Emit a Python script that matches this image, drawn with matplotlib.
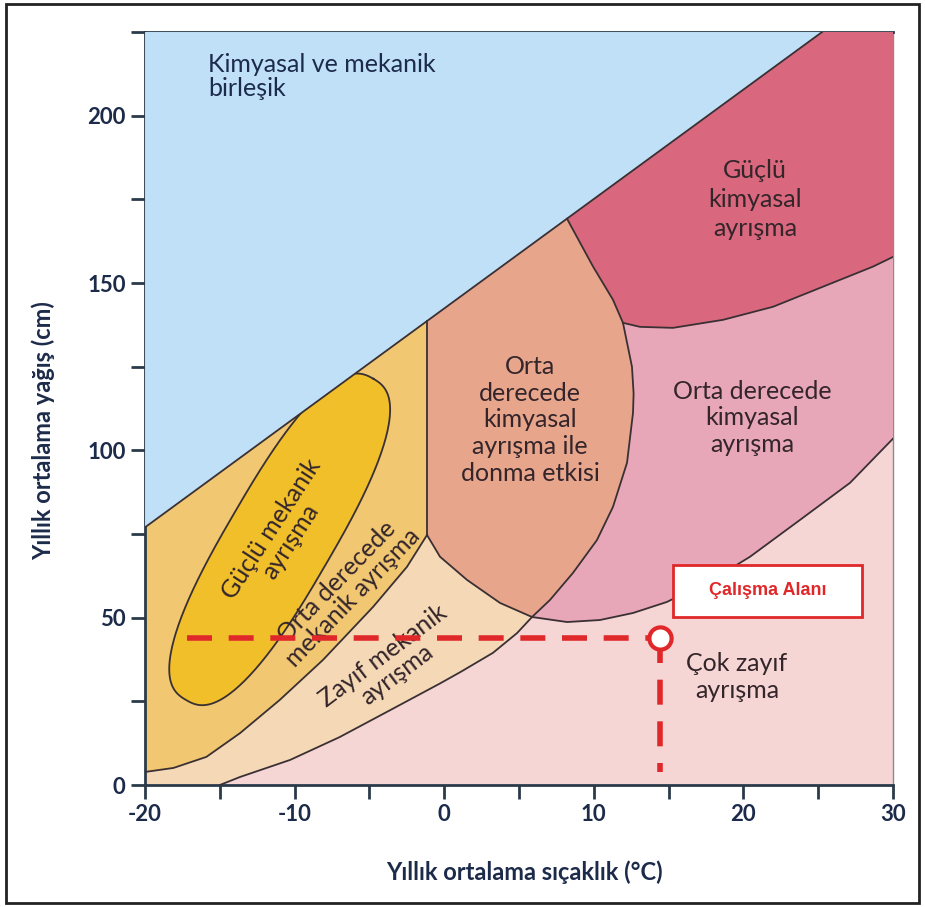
import numpy as np
import matplotlib.pyplot as plt
from matplotlib.patches import Rectangle

# boundary curves (x: temperature C, y: precipitation cm)
blue_x = [-20, 25.26]
blue_y = [77, 225]

curve_a_x = [-20, -18.1, -15.9, -13.65, -11.0, -8.1, -4.76, -2.49, -1.15]
curve_a_y = [3.9, 5.1, 8.4, 15.5, 25.4, 37.4, 53.2, 65.2, 74.7]

curve_b_x = [-15.0, -13.65, -10.3, -7.0, -3.6, -0.3, 1.1, 3.26, 4.87, 5.87]
curve_b_y = [0, 2.4, 7.5, 14.3, 22.4, 30.3, 33.8, 39.5, 45.4, 50.2]

donma_bot_x = [-1.15, -0.28, 1.52, 3.73, 5.87]
donma_bot_y = [74.7, 68.2, 61.3, 54.4, 50.2]

donma_up_x = [8.21, 9.95, 11.28, 11.95]
donma_up_y = [169.2, 154.9, 145.0, 138.1]
donma_lo_x = [11.95, 12.55, 12.66, 12.62, 12.22, 11.28, 10.21, 8.61, 7.07, 5.87]
donma_lo_y = [138.1, 125.0, 117.0, 111.2, 96.3, 83.1, 73.2, 63.4, 55.3, 50.2]

curve_c_x = [5.87, 8.21, 10.41, 12.62, 14.89, 18.24, 20.44, 23.78, 27.13, 30]
curve_c_y = [50.2, 48.7, 49.3, 51.4, 54.7, 62.2, 68.2, 79.2, 90.3, 103.5]

curve_d_x = [11.95, 13.09, 15.29, 18.64, 21.98, 25.32, 28.66, 30]
curve_d_y = [138.1, 136.9, 136.6, 139.0, 142.9, 148.9, 154.9, 157.8]

# strong mechanical zone (rounded oval): centre, conjugate semi-axes, squareness
ell_c = (-11.0, 73.4)
ell_long = (6.26, 48.0)
ell_short = (3.03, -7.89)
ell_n = 2.6

# study area point
site_t = 14.43
site_p = 44.0

xticks = [-20, -15, -10, -5, 0, 5, 10, 15, 20, 25, 30]
yticks = [0, 25, 50, 75, 100, 125, 150, 175, 200, 225]

c_blue = '#bfe0f6'
c_mech = '#f2c772'
c_ell = '#f0bf2a'
c_weak = '#f5d8b6'
c_vweak = '#f6d6d4'
c_donma = '#e7a58c'
c_modchem = '#e8a7b8'
c_strong = '#d9687e'
edge = '#3a3034'
navy = '#1d2b4a'
red = '#e0282a'

plt.rcParams['font.family'] = ['Lato', 'DejaVu Sans']

fig = plt.figure(figsize=(9.25, 9.07), dpi=100)
ax = fig.add_axes([0.1568, 0.1345, 0.8086, 0.8302])
ax.set_xlim(-20, 30)
ax.set_ylim(0, 225)
ax.set_facecolor(c_vweak)

def blue_at(x):
    return np.interp(x, blue_x, blue_y)

vx = curve_a_x[-1]
r = lambda a: list(a)[::-1]

# weak mechanical
ax.fill([-20] + curve_b_x + r(donma_bot_x) + r(curve_a_x),
        [0] + curve_b_y + r(donma_bot_y) + r(curve_a_y), color=c_weak, lw=0)
# moderate mechanical
ax.fill(curve_a_x + [vx, -20], curve_a_y + [blue_at(vx), blue_y[0]], color=c_mech, lw=0)

# strong mechanical oval
t = np.linspace(0, 2 * np.pi, 300)
cu = np.sign(np.cos(t)) * np.abs(np.cos(t)) ** (2 / ell_n)
su = np.sign(np.sin(t)) * np.abs(np.sin(t)) ** (2 / ell_n)
ex = ell_c[0] + ell_long[0] * cu + ell_short[0] * su
ey = ell_c[1] + ell_long[1] * cu + ell_short[1] * su
ax.fill(ex, ey, color=c_ell, lw=0, zorder=2)
ax.plot(ex, ey, color=edge, lw=1.3, zorder=2.5)

# frost + moderate chemical
ax.fill([vx, vx] + donma_up_x + donma_lo_x[1:] + r(donma_bot_x),
        [donma_bot_y[0], blue_at(vx)] + donma_up_y + donma_lo_y[1:] + r(donma_bot_y),
        color=c_donma, lw=0, zorder=3)
# moderate chemical
ax.fill(donma_lo_x + curve_c_x + r(curve_d_x),
        donma_lo_y + curve_c_y + r(curve_d_y), color=c_modchem, lw=0, zorder=3)
# strong chemical
ax.fill(donma_up_x + curve_d_x + [30, 30, blue_x[1]],
        donma_up_y + curve_d_y + [225, 225, blue_y[1]], color=c_strong, lw=0, zorder=3)
# combined (blue)
ax.fill(blue_x + [-20], blue_y + [225], color=c_blue, lw=0, zorder=3)

# boundary lines
for xs, ys in [(blue_x, blue_y), (curve_a_x, curve_a_y), (curve_b_x, curve_b_y),
               (donma_bot_x, donma_bot_y), (donma_up_x, donma_up_y),
               (donma_lo_x, donma_lo_y), (curve_c_x, curve_c_y), (curve_d_x, curve_d_y),
               ([vx, vx], [curve_a_y[-1], blue_at(vx)])]:
    ax.plot(xs, ys, color=edge, lw=1.3, zorder=4)

# region labels
lab = dict(fontsize=18, color='#33252a', ha='center', va='center', zorder=5, linespacing=1.2)
ax.text(-15.79, 218.8, 'Kimyasal ve mekanik\nbirleşik', fontsize=18, color=navy,
        ha='left', va='top', linespacing=1.05, zorder=5)
ax.text(20.78, 174.9, 'Güçlü\nkimyasal\nayrışma', **dict(lab, linespacing=1.3))
ax.text(5.74, 109.1, 'Orta\nderecede\nkimyasal\nayrışma ile\ndonma etkisi', **lab)
ax.text(20.57, 109.7, 'Orta derecede\nkimyasal\nayrışma', **lab)
ax.text(19.57, 32.3, 'Çok zayıf\nayrışma', **lab)
ax.text(-10.9, 74.7, 'Güçlü mekanik\nayrışma', rotation=57, rotation_mode='anchor',
        **dict(lab, linespacing=1.0))
ax.text(-6.63, 58.3, 'Orta derecede\nmekanik ayrışma', rotation=46, rotation_mode='anchor',
        **dict(lab, linespacing=1.0))
ax.text(-3.62, 35.9, 'Zayıf mekanik\nayrışma', rotation=37, rotation_mode='anchor',
        **dict(lab, linespacing=1.0))

# study area
dash = (0, (4.5, 3))
ax.plot([-17.2, site_t], [site_p, site_p], color=red, lw=4, ls=dash, zorder=6)
ax.plot([site_t, site_t], [site_p, 4], color=red, lw=4, ls=dash, zorder=6)
ax.plot(site_t, site_p, 'o', ms=16, mfc='white', mec=red, mew=3, zorder=7)
ax.add_patch(Rectangle((site_t + 0.86, site_p + 6.2), 12.64, 15.6, fc='white', ec=red,
                       lw=2, zorder=7))
ax.text(site_t + 7.18, site_p + 14.0, 'Çalışma Alanı', color=red, fontsize=13,
        fontweight='bold', family=['Liberation Sans'], ha='center', va='center', zorder=8)

# axes
ax.set_xticks(xticks)
ax.set_xticklabels([str(v) if v % 10 == 0 else '' for v in xticks])
ax.set_yticks(yticks)
ax.set_yticklabels([str(v) if v % 50 == 0 and v < 225 else '' for v in yticks])
ax.tick_params(length=10, width=2, color='#2b3a4a', labelsize=16, labelcolor=navy, pad=4)
for lbl in ax.get_xticklabels() + ax.get_yticklabels():
    lbl.set_fontweight('bold')
for s in ['left', 'bottom', 'top']:
    ax.spines[s].set_color('#2b3a4a')
    ax.spines[s].set_linewidth(2)
ax.spines['right'].set_color('#8a8a90')
ax.spines['right'].set_linewidth(1)

ax.set_xlabel('Yıllık ortalama sıçaklık (°C)', fontsize=17, fontweight='bold', color=navy)
ax.set_ylabel('Yıllık ortalama yağış (cm)', fontsize=17, fontweight='bold', color=navy)
ax.xaxis.set_label_coords(0.507, -0.10)
ax.yaxis.set_label_coords(-0.12, 0.471)

fig.add_artist(Rectangle((0.006, 0.004), 0.988, 0.992, transform=fig.transFigure,
                         fill=False, lw=2, ec='#222222'))

fig.savefig('out.png', dpi=100)
